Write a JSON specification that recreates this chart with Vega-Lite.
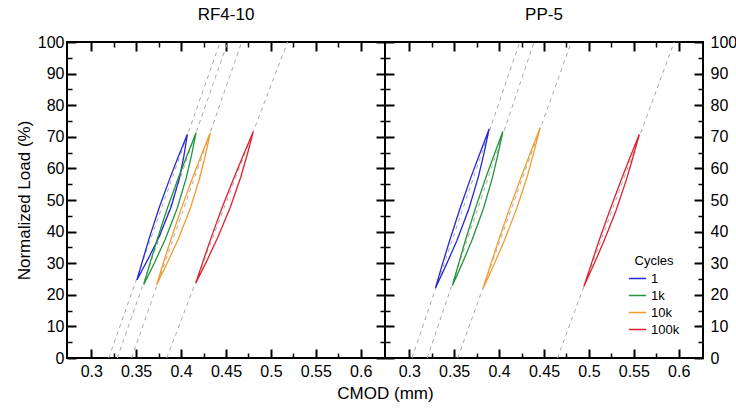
{
  "$schema": "https://vega.github.io/schema/vega-lite/v6.json",
  "background": "white",
  "padding": {"left": 14, "right": 5, "top": 5, "bottom": 5},
  "spacing": 0,
  "bounds": "flush",
  "datasets": {
    "dashL": [
      {"c": "1", "x": 0.3195, "y": 0}, {"c": "1", "x": 0.4435, "y": 100},
      {"c": "1k", "x": 0.329, "y": 0}, {"c": "1k", "x": 0.452, "y": 100},
      {"c": "10k", "x": 0.345, "y": 0}, {"c": "10k", "x": 0.4675, "y": 100},
      {"c": "100k", "x": 0.384, "y": 0}, {"c": "100k", "x": 0.5185, "y": 100}
    ],
    "dashR": [
      {"c": "1", "x": 0.303, "y": 0}, {"c": "1", "x": 0.423, "y": 100},
      {"c": "1k", "x": 0.32, "y": 0}, {"c": "1k", "x": 0.439, "y": 100},
      {"c": "10k", "x": 0.354, "y": 0}, {"c": "10k", "x": 0.4805, "y": 100},
      {"c": "100k", "x": 0.465, "y": 0}, {"c": "100k", "x": 0.595, "y": 100}
    ],
    "loopsL": [
      {"c": "1", "i": 0, "x": 0.3508, "y": 24.7}, {"c": "1", "i": 1, "x": 0.3638, "y": 31.6}, {"c": "1", "i": 2, "x": 0.3758, "y": 38.5}, {"c": "1", "i": 3, "x": 0.3889, "y": 47.8}, {"c": "1", "i": 4, "x": 0.3982, "y": 57.0}, {"c": "1", "i": 5, "x": 0.4031, "y": 63.9}, {"c": "1", "i": 6, "x": 0.4070, "y": 70.8}, {"c": "1", "i": 7, "x": 0.3972, "y": 63.9}, {"c": "1", "i": 8, "x": 0.3877, "y": 57.0}, {"c": "1", "i": 9, "x": 0.3759, "y": 47.8}, {"c": "1", "i": 10, "x": 0.3652, "y": 38.5}, {"c": "1", "i": 11, "x": 0.3579, "y": 31.6}, {"c": "1", "i": 12, "x": 0.3508, "y": 24.7},
      {"c": "1k", "i": 0, "x": 0.3584, "y": 23.2}, {"c": "1k", "i": 1, "x": 0.3708, "y": 30.4}, {"c": "1k", "i": 2, "x": 0.3824, "y": 37.6}, {"c": "1k", "i": 3, "x": 0.3956, "y": 47.3}, {"c": "1k", "i": 4, "x": 0.4057, "y": 56.9}, {"c": "1k", "i": 5, "x": 0.4116, "y": 64.1}, {"c": "1k", "i": 6, "x": 0.4167, "y": 71.3}, {"c": "1k", "i": 7, "x": 0.4066, "y": 64.1}, {"c": "1k", "i": 8, "x": 0.3968, "y": 56.9}, {"c": "1k", "i": 9, "x": 0.3846, "y": 47.3}, {"c": "1k", "i": 10, "x": 0.3735, "y": 37.6}, {"c": "1k", "i": 11, "x": 0.3658, "y": 30.4}, {"c": "1k", "i": 12, "x": 0.3584, "y": 23.2},
      {"c": "10k", "i": 0, "x": 0.3728, "y": 23.2}, {"c": "10k", "i": 1, "x": 0.3851, "y": 30.4}, {"c": "10k", "i": 2, "x": 0.3968, "y": 37.6}, {"c": "10k", "i": 3, "x": 0.4101, "y": 47.2}, {"c": "10k", "i": 4, "x": 0.4206, "y": 56.8}, {"c": "10k", "i": 5, "x": 0.4269, "y": 64.0}, {"c": "10k", "i": 6, "x": 0.4324, "y": 71.2}, {"c": "10k", "i": 7, "x": 0.4223, "y": 64.0}, {"c": "10k", "i": 8, "x": 0.4125, "y": 56.8}, {"c": "10k", "i": 9, "x": 0.4001, "y": 47.2}, {"c": "10k", "i": 10, "x": 0.3887, "y": 37.6}, {"c": "10k", "i": 11, "x": 0.3806, "y": 30.4}, {"c": "10k", "i": 12, "x": 0.3728, "y": 23.2},
      {"c": "100k", "i": 0, "x": 0.4163, "y": 23.7}, {"c": "100k", "i": 1, "x": 0.4289, "y": 30.9}, {"c": "100k", "i": 2, "x": 0.4408, "y": 38.1}, {"c": "100k", "i": 3, "x": 0.4548, "y": 47.7}, {"c": "100k", "i": 4, "x": 0.4664, "y": 57.2}, {"c": "100k", "i": 5, "x": 0.4737, "y": 64.4}, {"c": "100k", "i": 6, "x": 0.4803, "y": 71.6}, {"c": "100k", "i": 7, "x": 0.4696, "y": 64.4}, {"c": "100k", "i": 8, "x": 0.4591, "y": 57.2}, {"c": "100k", "i": 9, "x": 0.4458, "y": 47.7}, {"c": "100k", "i": 10, "x": 0.4335, "y": 38.1}, {"c": "100k", "i": 11, "x": 0.4248, "y": 30.9}, {"c": "100k", "i": 12, "x": 0.4163, "y": 23.7}
    ],
    "loopsR": [
      {"c": "1", "i": 0, "x": 0.3291, "y": 22.1}, {"c": "1", "i": 1, "x": 0.3415, "y": 29.7}, {"c": "1", "i": 2, "x": 0.3531, "y": 37.2}, {"c": "1", "i": 3, "x": 0.3665, "y": 47.3}, {"c": "1", "i": 4, "x": 0.3770, "y": 57.4}, {"c": "1", "i": 5, "x": 0.3833, "y": 64.9}, {"c": "1", "i": 6, "x": 0.3889, "y": 72.5}, {"c": "1", "i": 7, "x": 0.3788, "y": 64.9}, {"c": "1", "i": 8, "x": 0.3689, "y": 57.4}, {"c": "1", "i": 9, "x": 0.3565, "y": 47.3}, {"c": "1", "i": 10, "x": 0.3450, "y": 37.2}, {"c": "1", "i": 11, "x": 0.3369, "y": 29.7}, {"c": "1", "i": 12, "x": 0.3291, "y": 22.1},
      {"c": "1k", "i": 0, "x": 0.3480, "y": 22.9}, {"c": "1k", "i": 1, "x": 0.3594, "y": 30.2}, {"c": "1k", "i": 2, "x": 0.3701, "y": 37.5}, {"c": "1k", "i": 3, "x": 0.3826, "y": 47.3}, {"c": "1k", "i": 4, "x": 0.3926, "y": 57.1}, {"c": "1k", "i": 5, "x": 0.3987, "y": 64.4}, {"c": "1k", "i": 6, "x": 0.4042, "y": 71.7}, {"c": "1k", "i": 7, "x": 0.3946, "y": 64.4}, {"c": "1k", "i": 8, "x": 0.3853, "y": 57.1}, {"c": "1k", "i": 9, "x": 0.3736, "y": 47.3}, {"c": "1k", "i": 10, "x": 0.3628, "y": 37.5}, {"c": "1k", "i": 11, "x": 0.3553, "y": 30.2}, {"c": "1k", "i": 12, "x": 0.3480, "y": 22.9},
      {"c": "10k", "i": 0, "x": 0.3821, "y": 22.0}, {"c": "10k", "i": 1, "x": 0.3944, "y": 29.6}, {"c": "10k", "i": 2, "x": 0.4060, "y": 37.3}, {"c": "10k", "i": 3, "x": 0.4199, "y": 47.5}, {"c": "10k", "i": 4, "x": 0.4315, "y": 57.6}, {"c": "10k", "i": 5, "x": 0.4389, "y": 65.3}, {"c": "10k", "i": 6, "x": 0.4457, "y": 72.9}, {"c": "10k", "i": 7, "x": 0.4353, "y": 65.3}, {"c": "10k", "i": 8, "x": 0.4250, "y": 57.6}, {"c": "10k", "i": 9, "x": 0.4119, "y": 47.5}, {"c": "10k", "i": 10, "x": 0.3996, "y": 37.3}, {"c": "10k", "i": 11, "x": 0.3907, "y": 29.6}, {"c": "10k", "i": 12, "x": 0.3821, "y": 22.0},
      {"c": "100k", "i": 0, "x": 0.4943, "y": 22.6}, {"c": "100k", "i": 1, "x": 0.5058, "y": 29.8}, {"c": "100k", "i": 2, "x": 0.5169, "y": 37.1}, {"c": "100k", "i": 3, "x": 0.5302, "y": 46.7}, {"c": "100k", "i": 4, "x": 0.5416, "y": 56.3}, {"c": "100k", "i": 5, "x": 0.5491, "y": 63.6}, {"c": "100k", "i": 6, "x": 0.5561, "y": 70.8}, {"c": "100k", "i": 7, "x": 0.5459, "y": 63.6}, {"c": "100k", "i": 8, "x": 0.5359, "y": 56.3}, {"c": "100k", "i": 9, "x": 0.5232, "y": 46.7}, {"c": "100k", "i": 10, "x": 0.5112, "y": 37.1}, {"c": "100k", "i": 11, "x": 0.5027, "y": 29.8}, {"c": "100k", "i": 12, "x": 0.4943, "y": 22.6}
    ]
  },
  "hconcat": [
    {
      "width": 318,
      "height": 316,
      "title": {"text": "RF4-10", "anchor": "middle", "offset": 10, "fontSize": 17, "fontWeight": "normal", "font": "Liberation Sans", "color": "black"},
      "resolve": {"axis": {"x": "independent", "y": "independent"}},
      "layer": [
        {
          "data": {"name": "dashL"},
          "mark": {"type": "line", "stroke": "#a8a8a8", "strokeDash": [4, 4], "strokeWidth": 1},
          "encoding": {
            "x": {"field": "x", "type": "quantitative", "scale": {"domain": [0.273, 0.627], "nice": false, "zero": false},
              "axis": {"orient": "bottom", "values": [0.3, 0.35, 0.4, 0.45, 0.5, 0.55, 0.6], "format": "~g", "tickSize": -9, "tickWidth": 2, "labelPadding": 14, "labelFlush": false, "domain": false, "title": "CMOD (mm)", "titleX": 318, "titleY": 27, "titleAlign": "center", "titleBaseline": "top"}},
            "y": {"field": "y", "type": "quantitative", "scale": {"domain": [0, 100], "nice": false},
              "axis": {"orient": "left", "values": [0, 10, 20, 30, 40, 50, 60, 70, 80, 90, 100], "tickSize": -9, "tickWidth": 2, "labelPadding": 12, "labelFlush": false, "domain": false, "title": "Normalized Load (%)", "titlePadding": 4}},
            "detail": {"field": "c"}
          }
        },
        {
          "data": {"name": "loopsL"},
          "mark": {"type": "line", "strokeWidth": 1.3},
          "encoding": {
            "x": {"field": "x", "type": "quantitative", "axis": {"orient": "top", "values": [0.3, 0.35, 0.4, 0.45, 0.5, 0.55, 0.6], "tickSize": -9, "tickWidth": 2, "labels": false, "domain": false, "title": null}},
            "y": {"field": "y", "type": "quantitative", "axis": {"orient": "right", "values": [0, 10, 20, 30, 40, 50, 60, 70, 80, 90, 100], "tickSize": -9, "tickWidth": 2, "labels": false, "domain": false, "title": null}},
            "color": {"field": "c", "type": "nominal", "scale": {"domain": ["1", "1k", "10k", "100k"], "range": ["#2626d4", "#22943e", "#f29b2e", "#e11f2f"]}, "legend": null},
            "order": {"field": "i", "type": "quantitative"}
          }
        },
        {
          "data": {"name": "dashL"},
          "mark": {"type": "point", "opacity": 0},
          "encoding": {
            "x": {"field": "x", "type": "quantitative", "axis": {"orient": "bottom", "values": [0.325, 0.375, 0.425, 0.475, 0.525, 0.575], "tickSize": -5, "tickWidth": 1.5, "labels": false, "domain": false, "title": null}},
            "y": {"field": "y", "type": "quantitative", "axis": {"orient": "left", "values": [5, 15, 25, 35, 45, 55, 65, 75, 85, 95], "tickSize": -5, "tickWidth": 1.5, "labels": false, "domain": false, "title": null}}
          }
        },
        {
          "data": {"name": "dashL"},
          "mark": {"type": "point", "opacity": 0},
          "encoding": {
            "x": {"field": "x", "type": "quantitative", "axis": {"orient": "top", "values": [0.325, 0.375, 0.425, 0.475, 0.525, 0.575], "tickSize": -5, "tickWidth": 1.5, "labels": false, "domain": false, "title": null}},
            "y": {"field": "y", "type": "quantitative", "axis": {"orient": "right", "values": [5, 15, 25, 35, 45, 55, 65, 75, 85, 95], "tickSize": -5, "tickWidth": 1.5, "labels": false, "domain": false, "title": null}}
          }
        }
      ]
    },
    {
      "width": 318,
      "height": 316,
      "title": {"text": "PP-5", "anchor": "middle", "offset": 10, "fontSize": 17, "fontWeight": "normal", "font": "Liberation Sans", "color": "black"},
      "resolve": {"axis": {"x": "independent", "y": "independent"}},
      "layer": [
        {
          "data": {"name": "dashR"},
          "mark": {"type": "line", "stroke": "#a8a8a8", "strokeDash": [4, 4], "strokeWidth": 1},
          "encoding": {
            "x": {"field": "x", "type": "quantitative", "scale": {"domain": [0.273, 0.627], "nice": false, "zero": false},
              "axis": {"orient": "bottom", "values": [0.3, 0.35, 0.4, 0.45, 0.5, 0.55, 0.6], "format": "~g", "tickSize": -9, "tickWidth": 2, "labelPadding": 14, "labelFlush": false, "domain": false, "title": null}},
            "y": {"field": "y", "type": "quantitative", "scale": {"domain": [0, 100], "nice": false},
              "axis": {"orient": "right", "values": [0, 10, 20, 30, 40, 50, 60, 70, 80, 90, 100], "tickSize": -9, "tickWidth": 2, "labelPadding": 16, "labelFlush": false, "domain": false, "title": null}},
            "detail": {"field": "c"}
          }
        },
        {
          "data": {"name": "loopsR"},
          "mark": {"type": "line", "strokeWidth": 1.3},
          "encoding": {
            "x": {"field": "x", "type": "quantitative", "axis": {"orient": "top", "values": [0.3, 0.35, 0.4, 0.45, 0.5, 0.55, 0.6], "tickSize": -9, "tickWidth": 2, "labels": false, "domain": false, "title": null}},
            "y": {"field": "y", "type": "quantitative", "axis": {"orient": "left", "values": [0, 10, 20, 30, 40, 50, 60, 70, 80, 90, 100], "tickSize": -9, "tickWidth": 2, "labels": false, "domain": false, "title": null}},
            "color": {"field": "c", "type": "nominal", "scale": {"domain": ["1", "1k", "10k", "100k"], "range": ["#2626d4", "#22943e", "#f29b2e", "#e11f2f"]},
              "legend": {"orient": "none", "legendX": 243, "legendY": 213, "title": "Cycles", "titleAnchor": "middle", "titlePadding": 1, "symbolType": "stroke", "symbolStrokeWidth": 1.5, "symbolSize": 300, "labelFontSize": 13, "titleFontSize": 13, "titleFontWeight": "normal", "rowPadding": 0, "labelColor": "black", "titleColor": "black", "padding": 0}},
            "order": {"field": "i", "type": "quantitative"}
          }
        },
        {
          "data": {"name": "dashR"},
          "mark": {"type": "point", "opacity": 0},
          "encoding": {
            "x": {"field": "x", "type": "quantitative", "axis": {"orient": "bottom", "values": [0.325, 0.375, 0.425, 0.475, 0.525, 0.575], "tickSize": -5, "tickWidth": 1.5, "labels": false, "domain": false, "title": null}},
            "y": {"field": "y", "type": "quantitative", "axis": {"orient": "left", "values": [5, 15, 25, 35, 45, 55, 65, 75, 85, 95], "tickSize": -5, "tickWidth": 1.5, "labels": false, "domain": false, "title": null}}
          }
        },
        {
          "data": {"name": "dashR"},
          "mark": {"type": "point", "opacity": 0},
          "encoding": {
            "x": {"field": "x", "type": "quantitative", "axis": {"orient": "top", "values": [0.325, 0.375, 0.425, 0.475, 0.525, 0.575], "tickSize": -5, "tickWidth": 1.5, "labels": false, "domain": false, "title": null}},
            "y": {"field": "y", "type": "quantitative", "axis": {"orient": "right", "values": [5, 15, 25, 35, 45, 55, 65, 75, 85, 95], "tickSize": -5, "tickWidth": 1.5, "labels": false, "domain": false, "title": null}}
          }
        }
      ]
    }
  ],
  "resolve": {"scale": {"color": "independent"}},
  "config": {
    "font": "Liberation Sans",
    "view": {"stroke": "black", "strokeWidth": 2},
    "axis": {"grid": false, "labelFont": "Liberation Sans", "labelFontSize": 16, "labelColor": "black", "tickColor": "black", "domainColor": "black", "titleFont": "Liberation Sans", "titleFontSize": 17, "titleFontWeight": "normal", "titleColor": "black", "labelBound": false},
    "legend": {"labelFont": "Liberation Sans", "titleFont": "Liberation Sans"}
  }
}
